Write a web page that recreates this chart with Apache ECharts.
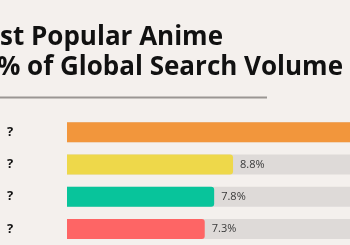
<!DOCTYPE html>
<html><head><meta charset="utf-8">
<style>html,body{margin:0;padding:0;background:#f4f0ed;}#c{width:350px;height:245px;}</style>
<script src="https://cdn.jsdelivr.net/npm/echarts@6/dist/echarts.min.js"></script>
</head><body><div id="c"></div>
<script>
const categories = ['?', '?', '?', '?'];
const values = [16.5, 8.8, 7.8, 7.3];
const axisMax = 15;
const colors = ['#f2963c', '#eed84a', '#08c49b', '#fe6565'];
const titleLines = ['Most Popular Anime', 'by % of Global Search Volume'];

const chart = echarts.init(document.getElementById('c'), null, {renderer: 'canvas'});
chart.setOption({
  backgroundColor: '#f4f0ed',
  animation: false,
  graphic: [
    {type: 'text', x: 223, y: 37.5, style: {text: titleLines[0], align: 'right', verticalAlign: 'middle', font: 'bold 26px "Open Sans"', fill: '#111'}},
    {type: 'text', x: 343, y: 68, style: {text: titleLines[1], align: 'right', verticalAlign: 'middle', font: 'bold 26px "Open Sans"', fill: '#111'}},
    {type: 'rect', shape: {x: 0, y: 96.5, width: 267, height: 2}, style: {fill: '#9a9693'}}
  ],
  grid: {left: 67, top: 116, right: 0, height: 129},
  xAxis: {type: 'value', min: 0, max: axisMax, show: false},
  yAxis: {
    type: 'category', data: categories, inverse: true,
    axisLine: {show: false}, axisTick: {show: false}, splitLine: {show: false},
    axisLabel: {align: 'left', margin: 60, color: '#111', fontFamily: 'Open Sans', fontWeight: 'bold', fontSize: 13}
  },
  series: [
    {type: 'bar', data: categories.map(() => axisMax), barWidth: 20, barGap: '-100%', silent: true,
     itemStyle: {color: '#dedad8'}, z: 1},
    {type: 'bar', data: values.map((v, i) => ({value: v, itemStyle: {color: colors[i]}})), barWidth: 20, z: 2,
     clip: false,
     itemStyle: {borderRadius: [0, 3, 3, 0]},
     label: {show: true, position: 'right', distance: 7, formatter: p => p.value + '%', color: '#3a3a3a', fontFamily: 'Open Sans', fontSize: 11}}
  ]
});
</script></body></html>
